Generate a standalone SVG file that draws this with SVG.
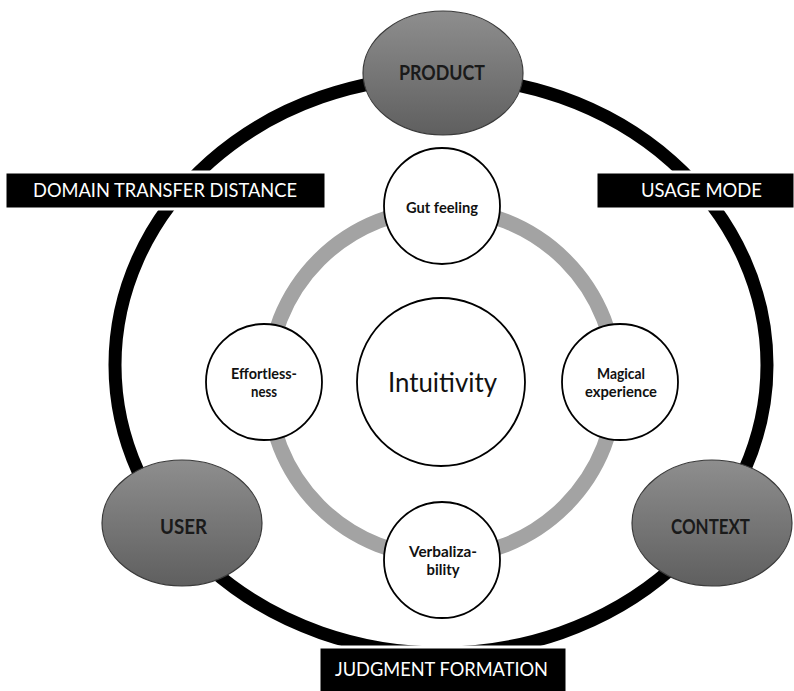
<svg xmlns="http://www.w3.org/2000/svg" width="794" height="691" viewBox="0 0 794 691">
<defs>
<linearGradient id="dark" x1="0" y1="0" x2="0" y2="1">
<stop offset="0" stop-color="#8e8e8e"/>
<stop offset="1" stop-color="#5f5f5f"/>
</linearGradient>
<style>
.big{fill:url(#dark);stroke:#3a3a3a;stroke-width:1.2}
.small{fill:#fff;stroke:#000;stroke-width:1.8}
.box{fill:#000;stroke:#fff;stroke-width:3}
.lbl{font-family:Lato,"Open Sans",sans-serif;font-size:19px;fill:#fff;text-anchor:middle}
.bt{font-family:Lato,"Open Sans",sans-serif;font-weight:bold;font-size:20px;fill:#1a1a1a;text-anchor:middle}
.st{font-family:Lato,"Open Sans",sans-serif;font-weight:bold;font-size:15px;fill:#111;text-anchor:middle}
</style>
</defs>
<rect width="794" height="691" fill="#fff"/>
<g id="connectors">
<ellipse cx="441" cy="365" rx="326" ry="288" fill="none" stroke="#000" stroke-width="13"/>
<circle cx="442" cy="383" r="174" fill="none" stroke="#a3a3a3" stroke-width="15"/>
</g>
<g id="domain-transfer-distance">
<rect class="box" x="5" y="172" width="321" height="37"/>
<text class="lbl" x="165" y="197" textLength="264" lengthAdjust="spacingAndGlyphs">DOMAIN TRANSFER DISTANCE</text>
</g>
<g id="usage-mode">
<rect class="box" x="596" y="172" width="199" height="37"/>
<text class="lbl" x="701.5" y="197" textLength="121" lengthAdjust="spacingAndGlyphs">USAGE MODE</text>
</g>
<g id="judgment-formation">
<rect class="box" x="319" y="647" width="248" height="50"/>
<text class="lbl" x="441.5" y="676" textLength="213" lengthAdjust="spacingAndGlyphs">JUDGMENT FORMATION</text>
</g>
<g id="product">
<ellipse class="big" cx="443" cy="73" rx="80" ry="62"/>
<text class="bt" x="442" y="80" textLength="86" lengthAdjust="spacingAndGlyphs">PRODUCT</text>
</g>
<g id="user">
<ellipse class="big" cx="182" cy="523" rx="80" ry="63"/>
<text class="bt" x="183.5" y="534" textLength="47" lengthAdjust="spacingAndGlyphs">USER</text>
</g>
<g id="context">
<ellipse class="big" cx="712" cy="523" rx="80" ry="63"/>
<text class="bt" x="710.5" y="534" textLength="79" lengthAdjust="spacingAndGlyphs">CONTEXT</text>
</g>
<g id="intuitivity">
<circle class="small" cx="441" cy="382" r="84"/>
<text x="442.5" y="392" font-family="Lato,'Open Sans',sans-serif" font-size="27" fill="#111" text-anchor="middle" textLength="109" lengthAdjust="spacingAndGlyphs">Intuitivity</text>
</g>
<g id="gut-feeling">
<circle class="small" cx="442" cy="206" r="58"/>
<text class="st" x="442" y="213" textLength="72" lengthAdjust="spacingAndGlyphs">Gut feeling</text>
</g>
<g id="effortlessness">
<circle class="small" cx="264" cy="382" r="58"/>
<text class="st" x="264" y="379" textLength="66" lengthAdjust="spacingAndGlyphs">Effortless-</text>
<text class="st" x="264" y="397" textLength="26" lengthAdjust="spacingAndGlyphs">ness</text>
</g>
<g id="magical-experience">
<circle class="small" cx="620" cy="382" r="58"/>
<text class="st" x="621" y="379" textLength="48" lengthAdjust="spacingAndGlyphs">Magical</text>
<text class="st" x="621" y="397" textLength="72" lengthAdjust="spacingAndGlyphs">experience</text>
</g>
<g id="verbalizability">
<circle class="small" cx="442" cy="560" r="58"/>
<text class="st" x="443" y="557" textLength="68" lengthAdjust="spacingAndGlyphs">Verbaliza-</text>
<text class="st" x="443" y="575" textLength="33" lengthAdjust="spacingAndGlyphs">bility</text>
</g>
</svg>
